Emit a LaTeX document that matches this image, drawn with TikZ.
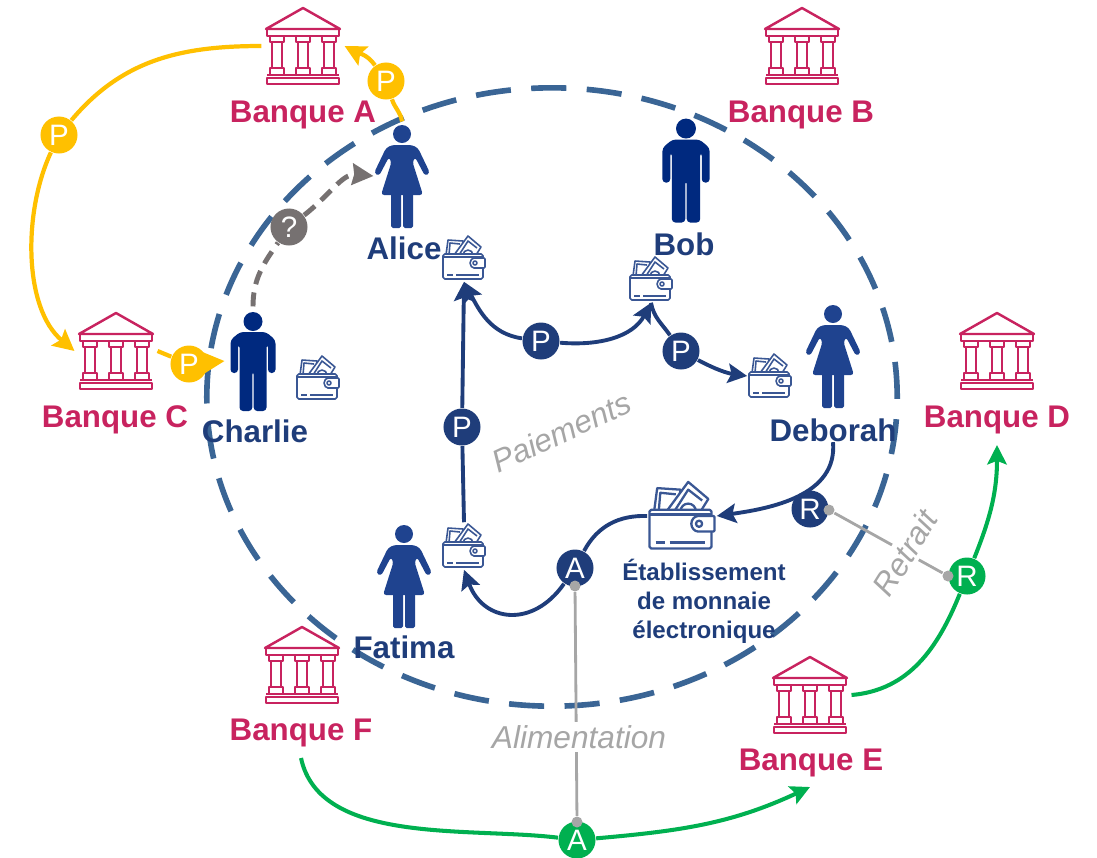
\documentclass[tikz,border=0pt]{standalone}
\usepackage{fontspec}
\setmainfont{Liberation Sans}
\usepackage{xcolor}
\usetikzlibrary{shapes.geometric, arrows.meta}
\definecolor{bankRed}{HTML}{C8235F}
\definecolor{navyLine}{HTML}{1F3D7A}
\definecolor{womanBlue}{HTML}{1F438F}
\definecolor{manBlue}{HTML}{00297F}
\definecolor{walletBlue}{HTML}{3A5794}
\definecolor{zoneBlue}{HTML}{3A6595}
\definecolor{payYellow}{HTML}{FFC000}
\definecolor{bankGreen}{HTML}{00B050}
\definecolor{darkGrey}{HTML}{767171}
\definecolor{lightGrey}{HTML}{A6A6A6}
\tikzstyle{bankBox} = [rectangle, inner sep=0, outer sep=1pt, minimum width=0.76cm, minimum height=0.78cm]
\tikzstyle{personBox} = [rectangle, inner sep=0, outer sep=1pt, minimum width=0.50cm, minimum height=1.02cm]
\tikzstyle{walletBox} = [rectangle, inner sep=0, outer sep=0.5pt, minimum width=0.42cm, minimum height=0.44cm]
\tikzstyle{bigWalletBox} = [rectangle, inner sep=0, outer sep=0.5pt, minimum width=0.66cm, minimum height=0.68cm]
\tikzstyle{bankLabel} = [text=bankRed, inner sep=0, font=\bfseries\fontsize{8.9}{10}\selectfont]
\tikzstyle{personLabel} = [text=navyLine, inner sep=0, font=\bfseries\fontsize{8.9}{10}\selectfont]
\tikzstyle{noteLabel} = [text=lightGrey, inner sep=1pt, font=\itshape\fontsize{9}{10}\selectfont]
\tikzstyle{badge} = [circle, inner sep=0, minimum size=0.37cm, text=white, font=\fontsize{8.4}{9}\selectfont]
\tikzstyle{dot} = [circle, inner sep=0, minimum size=0.11cm, fill=lightGrey]
\tikzstyle{navyArrow} = [line width=1.1pt, draw=navyLine, -{Stealth[length=5.5pt,width=5.5pt,inset=1pt]}]
\tikzstyle{navyPlain} = [line width=1.1pt, draw=navyLine]
\tikzstyle{yellowArrow} = [line width=1.2pt, draw=payYellow, -{Stealth[length=6pt,width=6pt,inset=1pt]}]
\tikzstyle{yellowPlain} = [line width=1.2pt, draw=payYellow]
\tikzstyle{greenArrow} = [line width=1.15pt, draw=bankGreen, -{Stealth[length=5.5pt,width=5.5pt,inset=1pt]}]
\tikzstyle{greenPlain} = [line width=1.15pt, draw=bankGreen]
\tikzstyle{greyDashed} = [line width=1.4pt, draw=darkGrey, dash pattern=on 4pt off 2.4pt]
\tikzstyle{greyLine} = [line width=0.8pt, draw=lightGrey]
\tikzset{
  bank/.pic={
    \begin{scope}[draw=bankRed, line width=0.7pt, line join=round]
      \draw (0,38) -- (-37,17) -- (37,17) -- cycle;
      \draw (-36,17) rectangle (36,10);
      \foreach \c in {-26,0,26} {
        \draw (\c-7,10) rectangle (\c+7,4);
        \draw (\c-5,4) rectangle (\c+5,-22);
        \draw (\c-7,-22) rectangle (\c+7,-29);
      }
      \draw (-36,-29) -- (36,-29);
      \draw (-36,-32) rectangle (36,-38);
    \end{scope}
  },
  woman/.pic={
    \fill [womanBlue] (0,42) circle (9);
    \fill [womanBlue, rounded corners=0.9pt] (-10,31) -- (10,31) -- (16,28) -- (28,3) -- (23,0) -- (13,19)
      -- (10.5,14) -- (21,-19) -- (-21,-19) -- (-10.5,14) -- (-13,19) -- (-23,0) -- (-28,3) -- (-16,28) -- cycle;
    \fill [womanBlue, rounded corners=0.5pt] (-11,-17) rectangle (-1,-52);
    \fill [womanBlue, rounded corners=0.5pt] (1,-17) rectangle (11,-52);
  },
  man/.pic={
    \fill [manBlue] (0,39.5) circle (9.5);
    \fill [manBlue, rounded corners=1pt] (-13,29) -- (13,29) -- (22.5,21) -- (22.5,-12) -- (15,-12) -- (15,17) -- (13.5,17)
      -- (13.5,-50) -- (0.7,-50) -- (0.7,-10) -- (-0.7,-10) -- (-0.7,-50) -- (-13.5,-50) -- (-13.5,17) -- (-15,17)
      -- (-15,-12) -- (-22.5,-12) -- (-22.5,21) -- cycle;
  },
  wallet/.pic={
    \begin{scope}[draw=walletBlue, line join=round]
      \draw [fill=white] (-18,3) -- (-16,18) -- (-1,17) -- (-3,3);
      \draw (-15,3) -- (-14,15) -- (-4,14);
      \draw [fill=white] (-10,3) -- (4,22) -- (17,11) -- (12,3);
      \draw (-5,3) -- (4,17) -- (13,10);
      \draw (-1,3) arc (180:0:5);
      \draw [fill=white, rounded corners=0.5pt] (-21,4) rectangle (19,-21);
      \draw (-21,1) -- (19,1);
      \draw (-17,-17) -- (-11,-17) (-8,-17) -- (15,-17);
      \draw [fill=white, rounded corners=0.3pt] (21,0) -- (11,0) arc (90:270:5) -- (21,-10) -- cycle;
      \draw (11,-5) circle (2);
    \end{scope}
  }
}

\begin{document}
\begin{tikzpicture}[x=0.01cm, y=0.01cm]
  \useasboundingbox (0,0) rectangle (1097,-857);
  % zone
  \node (zone) [ellipse, draw=zoneBlue, line width=1.6pt, dash pattern=on 10pt off 5.8pt, inner sep=0, minimum width=6.9cm, minimum height=6.18cm] at (552,-397) {};
  % banks
  \node (bankA) [bankBox] at (303,-46) {};
  \node (bankB) [bankBox] at (802,-46) {};
  \node (bankC) [bankBox] at (116,-351) {};
  \node (bankD) [bankBox] at (997,-351) {};
  \node (bankE) [bankBox] at (810,-695) {};
  \node (bankF) [bankBox] at (302,-665) {};
  \foreach \b in {bankA,bankB,bankC,bankD,bankE,bankF}
    \pic at (\b) {bank};
  \node (labelA) [bankLabel] at (303,-115) {Banque A};
  \node (labelB) [bankLabel] at (801,-115) {Banque B};
  \node (labelC) [bankLabel] at (115,-420) {Banque C};
  \node (labelD) [bankLabel] at (997,-420) {Banque D};
  \node (labelE) [bankLabel] at (811,-763) {Banque E};
  \node (labelF) [bankLabel] at (301,-733) {Banque F};
  % people
  \node (alice) [personBox] at (402,-176) {};
  \node (bob) [personBox] at (686,-170) {};
  \node (charlie) [personBox] at (253,-361) {};
  \node (deborah) [personBox] at (833,-356) {};
  \node (fatima) [personBox] at (404,-576) {};
  \pic at (alice) {woman};
  \pic [scale=1.05] at (bob) {man};
  \pic at (charlie) {man};
  \pic at (deborah) {woman};
  \pic at (fatima) {woman};
  \node (nameAlice) [personLabel] at (404,-248) {Alice};
  \node (nameBob) [personLabel] at (684,-244) {Bob};
  \node (nameCharlie) [personLabel] at (255,-431) {Charlie};
  \node (nameDeborah) [personLabel] at (833,-430) {Deborah};
  \node (nameFatima) [personLabel] at (404,-647) {Fatima};
  % wallets
  \node (walletA) [walletBox] at (464,-258) {};
  \node (walletB) [walletBox] at (651,-279) {};
  \node (walletC) [walletBox] at (318,-378) {};
  \node (walletD) [walletBox] at (770,-376) {};
  \node (walletF) [walletBox] at (464,-546) {};
  \node (walletEME) [bigWalletBox] at (682,-516) {};
  \foreach \w in {walletA,walletB,walletC,walletD,walletF}
    \pic [line width=0.45pt] at (\w) {wallet};
  \pic [scale=1.55, line width=0.65pt] at (walletEME) {wallet};
  \node (nameEME) [text=navyLine, inner sep=0, align=center, font=\bfseries\fontsize{6.85}{8.25}\selectfont] at (704,-601) {Établissement\\de monnaie\\électronique};
  % withdrawal runs under its badge
  \draw [navyArrow] (nameDeborah.south) to [out = -85, in = 8] (walletEME.east);
  % badges
  \node (payF) [badge, fill=navyLine] at (462,-427) {P};
  \node (payA) [badge, fill=navyLine] at (541,-341) {P};
  \node (payB) [badge, fill=navyLine] at (681,-351) {P};
  \node (alim) [badge, fill=navyLine] at (575,-568) {A};
  \node (ret) [badge, fill=navyLine] at (810,-509) {R};
  \node (yelBanks) [badge, fill=payYellow] at (59,-135) {P};
  \node (yelAlice) [badge, fill=payYellow] at (386,-81) {P};
  \node (yelCharlie) [badge, fill=payYellow] at (189,-364) {P};
  \node (unknown) [badge, fill=darkGrey] at (289,-227) {?};
  \node (alimBank) [badge, fill=bankGreen] at (577,-840) {A};
  \node (retBank) [badge, fill=bankGreen] at (967,-576) {R};
  \coordinate (startF) at (301,-758);
  \coordinate (endE) at (810,-787);
  \coordinate (endD) at (997,-445);
  % payments
  \draw [navyPlain] (walletF.north) -- (payF);
  \draw [navyArrow] (payF) -- (walletA.south);
  \draw [navyArrow] (payA) to [out = 172, in = -62] (walletA.south);
  \draw [navyArrow] (payA) to [out = -5, in = -118] (walletB.south);
  \draw [navyPlain] (walletB.south) to [out = -80, in = 125] (payB);
  \draw [navyArrow] (payB) to [out = -28, in = 172] (walletD.west);
  \draw [navyPlain] (walletEME.west) to [out = 178, in = 62] (alim);
  \draw [navyArrow] (alim) to [out = -125, in = -70, looseness=1.4] (walletF.south);
  % bank transfers
  \draw [yellowPlain] (bankA.west) to [out = 180, in = 50] (yelBanks);
  \draw [yellowArrow] (yelBanks) to [out = -115, in = 140, looseness=0.85] (bankC.west);
  \draw [yellowPlain] (alice.north) to [out = 98, in = -72] (yelAlice);
  \draw [yellowArrow] (yelAlice) to [out = 125, in = -28] (bankA.east);
  \draw [yellowPlain] (bankC.east) -- (yelCharlie);
  \draw [yellowArrow] (yelCharlie) -- (charlie.west);
  \draw [greyDashed] (charlie.north) to [out = 90, in = -125] (unknown);
  \draw [greyDashed, -{Stealth[length=6pt,width=6pt,inset=0.5pt]}] (unknown) to [out = 38, in = 175] (alice.west);
  \draw [greenPlain] (startF) to [out = -78, in = 173, looseness=0.85] (alimBank);
  \draw [greenArrow] (alimBank) to [out = 5, in = -155] (endE);
  \draw [greenPlain] (bankE.east) to [out = 5, in = -112] (retBank);
  \draw [greenArrow] (retBank) to [out = 68, in = -90] (endD);
  % top-ups and withdrawals
  \node (dotAlim) [dot] at (575,-586) {};
  \node (dotAlimBank) [dot] at (577,-822) {};
  \node (dotRet) [dot] at (829,-510) {};
  \node (dotRetBank) [dot] at (948,-576) {};
  \draw [greyLine] (dotAlim) -- (dotAlimBank);
  \draw [greyLine] (dotRet) -- (dotRetBank);
  \node (noteAlim) [noteLabel, fill=white] at (579,-737) {Alimentation};
  \node (noteRet) [noteLabel, fill=white, rotate=58] at (905,-553) {Retrait};
  \node (notePay) [noteLabel, rotate=25] at (561,-432) {Paiements};
\end{tikzpicture}
\end{document}
